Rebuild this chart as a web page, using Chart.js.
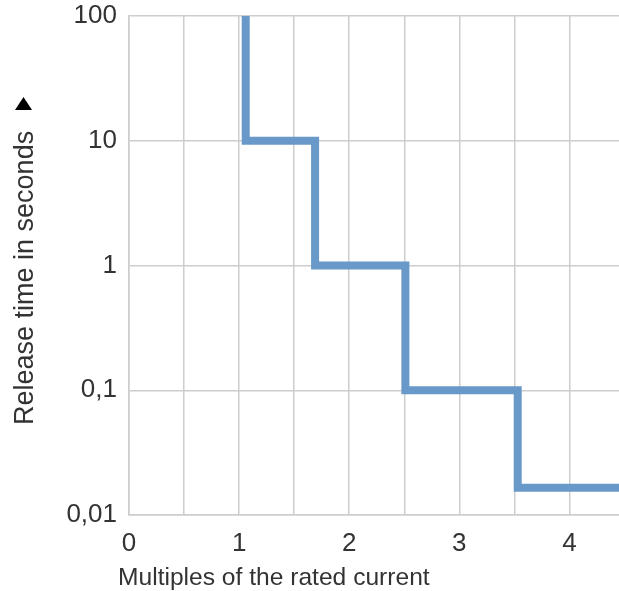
<!DOCTYPE html>
<html>
<head>
<meta charset="utf-8">
<script src="https://cdn.jsdelivr.net/npm/chart.js@4/dist/chart.umd.min.js"></script>
<style>
  html, body { margin: 0; padding: 0; background: #fff; }
  #wrap { width: 619px; height: 591px; }
</style>
</head>
<body>
<div id="wrap"><canvas id="tripChart"></canvas></div>
<script>
// step corners of the release curve (multiples of rated current / seconds)
const currentMultiples = [1.06, 1.06, 1.69, 1.69, 2.51, 2.51, 3.53, 3.53, 4.45];
const releaseSeconds = [100, 10, 10, 1, 1, 0.1, 0.1, 0.0165, 0.0165];
const xTickValues = [0, 0.5, 1, 1.5, 2, 2.5, 3, 3.5, 4];
const yTickValues = [0.01, 0.1, 1, 10, 100];
const yTickLabels = ['0,01', '0,1', '1', '10', '100'];
const xTitle = 'Multiples of the rated current';
const yTitle = 'Release time in seconds';

const gridColor = '#cdcdcd';
const textColor = '#333';
const fontFamily = '"Liberation Sans", Arial, sans-serif';

const captions = {
  id: 'captions',
  afterDraw(chart) {
    const ctx = chart.ctx;
    ctx.save();
    ctx.fillStyle = textColor;
    ctx.textBaseline = 'alphabetic';
    ctx.font = `24.6px ${fontFamily}`;
    ctx.textAlign = 'left';
    ctx.fillText(xTitle, 118, 585);

    ctx.translate(33, 425);
    ctx.rotate(-Math.PI / 2);
    ctx.font = `27px ${fontFamily}`;
    ctx.fillText(yTitle, 0, 0);
    ctx.restore();

    // little arrow above the axis caption
    ctx.save();
    ctx.fillStyle = '#000';
    ctx.beginPath();
    ctx.moveTo(15, 110);
    ctx.lineTo(32, 110);
    ctx.lineTo(23.5, 97);
    ctx.closePath();
    ctx.fill();
    ctx.restore();
  }
};

new Chart(document.getElementById('tripChart'), {
  type: 'line',
  data: {
    datasets: [{
      data: currentMultiples.map((x, i) => ({ x, y: releaseSeconds[i] })),
      borderColor: '#6899c8',
      borderWidth: 8,
      borderJoinStyle: 'miter',
      borderCapStyle: 'butt',
      pointRadius: 0,
      tension: 0,
      fill: false
    }]
  },
  options: {
    responsive: true,
    maintainAspectRatio: false,
    animation: false,
    layout: { padding: { top: 16, right: 0, left: 0, bottom: 0 } },
    plugins: { legend: { display: false }, tooltip: { enabled: false } },
    scales: {
      x: {
        type: 'linear',
        min: 0,
        max: 4.45,
        afterBuildTicks(scale) {
          scale.ticks = xTickValues.map(value => ({ value }));
        },
        afterFit(scale) {
          scale.height = 76;
          scale.paddingRight = 0;
        },
        ticks: {
          autoSkip: false,
          maxRotation: 0,
          padding: 13,
          color: textColor,
          font: { family: fontFamily, size: 26 },
          callback: v => Number.isInteger(v) ? String(v) : ''
        },
        grid: { color: gridColor, lineWidth: 1.5, drawTicks: false },
        border: { color: gridColor, width: 1.5 }
      },
      y: {
        type: 'logarithmic',
        min: 0.01,
        max: 100,
        afterBuildTicks(scale) {
          scale.ticks = yTickValues.map(value => ({ value }));
        },
        afterFit(scale) {
          scale.width = 129;
          scale.paddingTop = 0;
          scale.paddingBottom = 0;
        },
        ticks: {
          padding: 12,
          color: textColor,
          font: { family: fontFamily, size: 26 },
          callback: v => {
            const i = yTickValues.findIndex(t => Math.abs(t - v) < t * 1e-6);
            return i >= 0 ? yTickLabels[i] : '';
          }
        },
        grid: { color: gridColor, lineWidth: 1.5, drawTicks: false },
        border: { color: gridColor, width: 1.5 }
      }
    }
  },
  plugins: [captions]
});
</script>
</body>
</html>
